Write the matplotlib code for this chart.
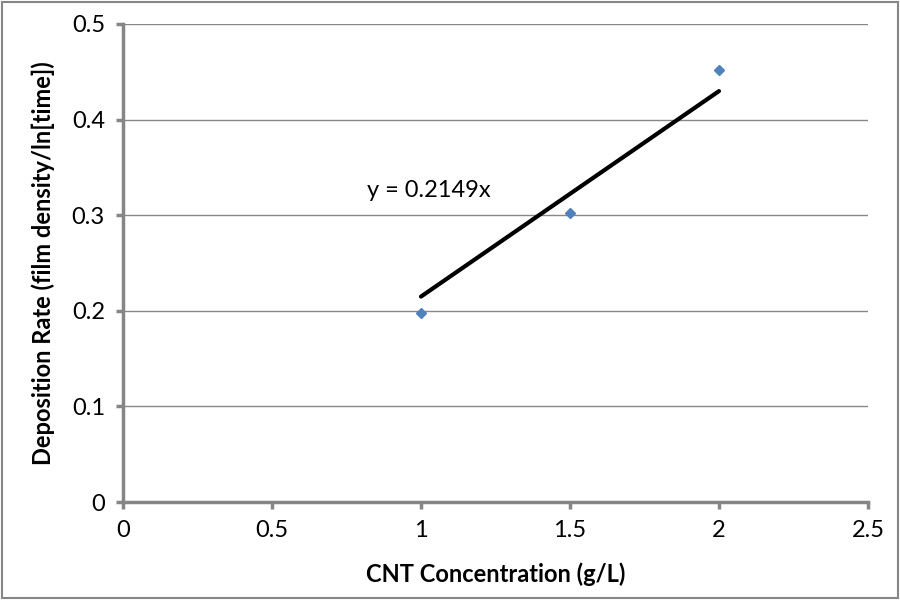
import numpy as np
import matplotlib.pyplot as plt
from matplotlib.patches import Rectangle

plt.rcParams['font.family'] = ['Lato', 'DejaVu Sans']

conc = [1.0, 1.5, 2.0]
rate = [0.198, 0.302, 0.452]
slope = 0.2149
fit_x = [1.0, 2.0]
x_ticks = [0, 0.5, 1, 1.5, 2, 2.5]
y_ticks = [0, 0.1, 0.2, 0.3, 0.4, 0.5]

fig = plt.figure(figsize=(9, 6), dpi=100)
ax = fig.add_axes([0.1367, 0.1633, 0.8277, 0.7967])

ax.plot(conc, rate, linestyle='none', marker='D', markersize=5.5, color='#4F81BD', zorder=3)
fx = np.array(fit_x)
ax.plot(fx, slope * fx, color='black', linewidth=3, solid_capstyle='round', zorder=2)
ax.text(0.82, 0.326, 'y = 0.2149x', fontsize=17, va='center', ha='left')

ax.set_xlim(0, 2.5)
ax.set_ylim(0, 0.5)
ax.set_xticks(x_ticks)
ax.set_xticklabels(['0', '0.5', '1', '1.5', '2', '2.5'])
ax.set_yticks(y_ticks)
ax.set_yticklabels(['0', '0.1', '0.2', '0.3', '0.4', '0.5'])
ax.yaxis.grid(True, color='#888888', linewidth=1)
ax.set_axisbelow(True)
for s in ['top', 'right']:
    ax.spines[s].set_visible(False)
for s in ['left', 'bottom']:
    ax.spines[s].set_color('#868686')
    ax.spines[s].set_linewidth(2.5)
ax.tick_params(direction='out', length=5, width=2.5, color='#868686', labelsize=17, pad=8)
ax.set_xlabel('CNT Concentration (g/L)', fontsize=17, fontweight='bold', labelpad=15)
ax.set_ylabel('Deposition Rate (film density/ln[time])', fontsize=17, fontweight='bold', labelpad=12)

fig.patches.append(Rectangle((0.002, 0.003), 0.996, 0.994, transform=fig.transFigure,
                             fill=False, edgecolor='#868686', linewidth=1.5))

fig.savefig('out.png', dpi=100)
